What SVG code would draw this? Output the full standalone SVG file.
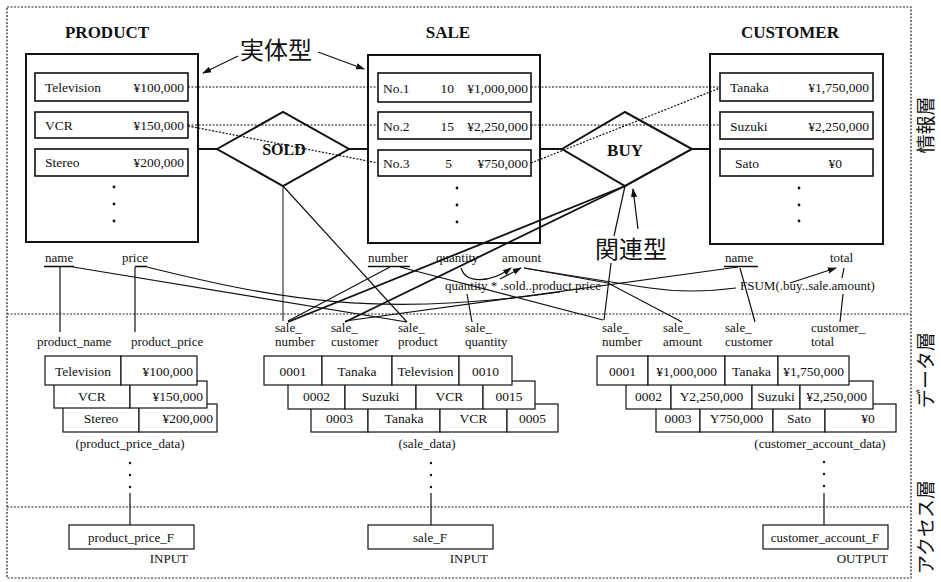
<svg xmlns="http://www.w3.org/2000/svg" width="941" height="582" viewBox="0 0 941 582">
<defs>
  <marker id="ah" viewBox="0 0 10 10" refX="9" refY="5" markerWidth="9" markerHeight="9" markerUnits="userSpaceOnUse" orient="auto">
    <path d="M0,1.5 L10,5 L0,8.5 Z" fill="#111"/>
  </marker>
</defs>
<style>
  text { font-family: "Liberation Serif", "Times New Roman", serif; fill: #111; }
  .t { font-size: 13.5px; }
  .s { font-size: 13px; }
  .mid { text-anchor: middle; }
  .end { text-anchor: end; }
  .title { font-size: 17px; font-weight: bold; text-anchor: middle; }
  .jp { font-family: "Noto Sans CJK JP", sans-serif; font-size: 24px; }
  .layer { font-family: "Noto Sans CJK JP", sans-serif; font-size: 19px; text-anchor: middle; }
  .frame { fill: none; stroke: #222; stroke-width: 1.2; stroke-dasharray: 2 1.5; }
  .ent { fill: none; stroke: #111; stroke-width: 2; }
  .row { fill: #fff; stroke: #111; stroke-width: 1.6; }
  .cell { fill: #fff; stroke: #111; stroke-width: 1.2; }
  .dia { fill: none; stroke: #111; stroke-width: 2; }
  .dot { fill: #111; }
  .ln { fill: none; stroke: #111; stroke-width: 1.2; }
  .thk { fill: none; stroke: #111; stroke-width: 2; }
  .dl { fill: none; stroke: #111; stroke-width: 1.2; stroke-dasharray: 2 1.5; }
  .ul { stroke: #111; stroke-width: 1.6; }
</style>
<rect width="941" height="582" fill="#fff"/>

<!-- layer frame and separators -->
<g id="frame">
  <rect class="frame" x="7" y="7" width="904" height="571"/>
  <line class="frame" x1="7" y1="314" x2="911" y2="314"/>
  <line class="frame" x1="7" y1="507" x2="911" y2="507"/>
  <text class="layer" transform="translate(933,125) rotate(-90)">情報層</text>
  <text class="layer" transform="translate(933,370) rotate(-90)">データ層</text>
  <text class="layer" transform="translate(933,527) rotate(-90)">アクセス層</text>
</g>

<!-- entity types -->
<g id="product">
  <text class="title" x="107" y="38">PRODUCT</text>
  <rect class="ent" x="26" y="54" width="172" height="188"/>
  <rect class="row" x="35" y="73" width="153" height="28"/>
  <rect class="row" x="35" y="112" width="153" height="26"/>
  <rect class="row" x="35" y="149" width="153" height="27"/>
  <text class="t" x="45" y="92">Television</text><text class="t end" x="184" y="92">¥100,000</text>
  <text class="t" x="45" y="130">VCR</text><text class="t end" x="184" y="130">¥150,000</text>
  <text class="t" x="45" y="167">Stereo</text><text class="t end" x="184" y="167">¥200,000</text>
  <circle class="dot" cx="114" cy="187" r="1.4"/><circle class="dot" cx="114" cy="204" r="1.4"/><circle class="dot" cx="114" cy="221" r="1.4"/>
</g>

<g id="sale">
  <text class="title" x="448" y="38">SALE</text>
  <rect class="ent" x="368" y="55" width="172" height="188"/>
  <rect class="row" x="378" y="73" width="153" height="29"/>
  <rect class="row" x="378" y="112" width="153" height="27"/>
  <rect class="row" x="378" y="150" width="153" height="26"/>
  <text class="t" x="383" y="93">No.1</text><text class="t end" x="454" y="93">10</text><text class="t end" x="528" y="93">¥1,000,000</text>
  <text class="t" x="383" y="131">No.2</text><text class="t end" x="454" y="131">15</text><text class="t end" x="528" y="131">¥2,250,000</text>
  <text class="t" x="383" y="168">No.3</text><text class="t end" x="452" y="168">5</text><text class="t end" x="528" y="168">¥750,000</text>
  <circle class="dot" cx="457" cy="188" r="1.4"/><circle class="dot" cx="457" cy="205" r="1.4"/><circle class="dot" cx="457" cy="222" r="1.4"/>
</g>

<g id="customer">
  <text class="title" x="790" y="38">CUSTOMER</text>
  <rect class="ent" x="710" y="54" width="173" height="190"/>
  <rect class="row" x="720" y="73" width="153" height="28"/>
  <rect class="row" x="720" y="112" width="153" height="27"/>
  <rect class="row" x="720" y="149" width="153" height="27"/>
  <text class="t" x="730" y="92">Tanaka</text><text class="t end" x="869" y="92">¥1,750,000</text>
  <text class="t" x="730" y="131">Suzuki</text><text class="t end" x="869" y="131">¥2,250,000</text>
  <text class="t" x="735" y="168">Sato</text><text class="t end" x="842" y="168">¥0</text>
  <circle class="dot" cx="799" cy="188" r="1.4"/><circle class="dot" cx="799" cy="205" r="1.4"/><circle class="dot" cx="799" cy="221" r="1.4"/>
</g>

<!-- relationship types -->
<g id="sold">
  <polygon class="dia" points="217,149 283,112 349,149 283,186"/>
  <text class="title" x="284" y="155" style="font-size:16px">SOLD</text>
</g>
<g id="buy">
  <polygon class="dia" points="562,149 625,112 692,149 625,186"/>
  <text class="title" x="625" y="156">BUY</text>
</g>

<!-- captions -->
<g id="entity-caption">
  <text class="jp" x="240" y="59">実体型</text>
  <line class="ln" x1="238" y1="56" x2="203" y2="73" marker-end="url(#ah)"/>
  <line class="ln" x1="318" y1="52" x2="364" y2="69" marker-end="url(#ah)"/>
</g>
<g id="relation-caption">
  <text class="jp" x="595" y="258">関連型</text>
  <line class="ln" x1="638" y1="229" x2="633" y2="189" marker-end="url(#ah)"/>
</g>

<!-- attributes -->
<g id="attr-product">
  <text class="s" x="45" y="262">name</text>
  <text class="s" x="122" y="262">price</text>
  <line class="ul" x1="44" y1="266.5" x2="74" y2="266.5"/>
  <line class="ul" x1="135" y1="266.5" x2="147" y2="266.5"/>
</g>
<g id="attr-sale">
  <text class="s" x="368" y="262">number</text>
  <text class="s" x="436" y="262">quantity</text>
  <text class="s" x="502" y="262">amount</text>
  <line class="ul" x1="368" y1="266.5" x2="410" y2="266.5"/>
  <text class="s" x="445" y="290">quantity * .sold..product.price</text>
</g>
<g id="attr-customer">
  <text class="s" x="725" y="262">name</text>
  <text class="s" x="830" y="262">total</text>
  <line class="ul" x1="724" y1="266.5" x2="758" y2="266.5"/>
  <text class="s" x="740" y="290">FSUM(.buy..sale.amount)</text>
</g>

<!-- data-layer fields -->
<g id="fields">
  <text class="s" x="37" y="346">product_name</text>
  <text class="s" x="131" y="346">product_price</text>
  <text class="s" x="275" y="332">sale_</text><text class="s" x="275" y="346">number</text>
  <text class="s" x="331" y="332">sale_</text><text class="s" x="331" y="346">customer</text>
  <text class="s" x="398" y="332">sale_</text><text class="s" x="398" y="346">product</text>
  <text class="s" x="465" y="332">sale_</text><text class="s" x="465" y="346">quantity</text>
  <text class="s" x="602" y="332">sale_</text><text class="s" x="602" y="346">number</text>
  <text class="s" x="663" y="332">sale_</text><text class="s" x="663" y="346">amount</text>
  <text class="s" x="725" y="332">sale_</text><text class="s" x="725" y="346">customer</text>
  <text class="s" x="811" y="332">customer_</text><text class="s" x="811" y="346">total</text>
</g>

<!-- record stacks -->
<g id="product_price_data">
  <rect class="cell" x="63" y="404" width="76" height="28"/><rect class="cell" x="139" y="404" width="78" height="28"/>
  <text class="t mid" x="101" y="423">Stereo</text><text class="t end" x="213" y="423">¥200,000</text>
  <rect class="cell" x="54" y="381" width="76" height="27"/><rect class="cell" x="130" y="381" width="77" height="27"/>
  <text class="t mid" x="92" y="401">VCR</text><text class="t end" x="203" y="401">¥150,000</text>
  <rect class="cell" x="45" y="356" width="76" height="29"/><rect class="cell" x="121" y="356" width="76" height="29"/>
  <text class="t mid" x="83" y="376">Television</text><text class="t end" x="193" y="376">¥100,000</text>
  <text class="s mid" x="130" y="448">(product_price_data)</text>
  <circle class="dot" cx="130" cy="463" r="1.2"/><circle class="dot" cx="130" cy="475" r="1.2"/><circle class="dot" cx="130" cy="487" r="1.2"/>
</g>

<g id="sale_data">
  <rect class="cell" x="311" y="404" width="57" height="28"/><rect class="cell" x="368" y="404" width="72" height="28"/><rect class="cell" x="440" y="404" width="67" height="28"/><rect class="cell" x="507" y="404" width="51" height="28"/>
  <text class="t mid" x="339.5" y="423">0003</text><text class="t mid" x="404" y="423">Tanaka</text><text class="t mid" x="473.5" y="423">VCR</text><text class="t mid" x="532.5" y="423">0005</text>
  <rect class="cell" x="288" y="381" width="57" height="28"/><rect class="cell" x="345" y="381" width="71" height="28"/><rect class="cell" x="416" y="381" width="67" height="28"/><rect class="cell" x="483" y="381" width="52" height="28"/>
  <text class="t mid" x="316.5" y="401">0002</text><text class="t mid" x="380.5" y="401">Suzuki</text><text class="t mid" x="449.5" y="401">VCR</text><text class="t mid" x="509" y="401">0015</text>
  <rect class="cell" x="264" y="356" width="58" height="29"/><rect class="cell" x="322" y="356" width="70" height="29"/><rect class="cell" x="392" y="356" width="67" height="29"/><rect class="cell" x="459" y="356" width="53" height="29"/>
  <text class="t mid" x="293" y="376">0001</text><text class="t mid" x="357" y="376">Tanaka</text><text class="t mid" x="425.5" y="376">Television</text><text class="t mid" x="485.5" y="376">0010</text>
  <text class="s mid" x="427" y="448">(sale_data)</text>
  <circle class="dot" cx="431" cy="463" r="1.2"/><circle class="dot" cx="431" cy="475" r="1.2"/><circle class="dot" cx="431" cy="487" r="1.2"/>
</g>

<g id="customer_account_data">
  <rect class="cell" x="656" y="404" width="44" height="28"/><rect class="cell" x="700" y="404" width="73" height="28"/><rect class="cell" x="773" y="404" width="52" height="28"/><rect class="cell" x="825" y="404" width="71" height="28"/>
  <text class="t mid" x="678" y="423">0003</text><text class="t mid" x="736.5" y="423">Y750,000</text><text class="t mid" x="799" y="423">Sato</text><text class="t mid" x="868" y="423">¥0</text>
  <rect class="cell" x="626" y="381" width="45" height="28"/><rect class="cell" x="671" y="381" width="81" height="28"/><rect class="cell" x="752" y="381" width="48" height="28"/><rect class="cell" x="800" y="381" width="73" height="28"/>
  <text class="t mid" x="648.5" y="401">0002</text><text class="t mid" x="711.5" y="401">Y2,250,000</text><text class="t mid" x="776" y="401">Suzuki</text><text class="t mid" x="836.5" y="401">¥2,250,000</text>
  <rect class="cell" x="597" y="356" width="51" height="29"/><rect class="cell" x="648" y="356" width="77" height="29"/><rect class="cell" x="725" y="356" width="53" height="29"/><rect class="cell" x="778" y="356" width="71" height="29"/>
  <text class="t mid" x="622.5" y="376">0001</text><text class="t mid" x="686.5" y="376">¥1,000,000</text><text class="t mid" x="751.5" y="376">Tanaka</text><text class="t mid" x="813.5" y="376">¥1,750,000</text>
  <text class="s mid" x="820" y="448">(customer_account_data)</text>
  <circle class="dot" cx="824" cy="462" r="1.2"/><circle class="dot" cx="824" cy="474" r="1.2"/><circle class="dot" cx="824" cy="486" r="1.2"/>
</g>

<!-- access-layer files -->
<g id="product_price_F">
  <rect class="cell" x="69" y="525" width="125" height="24"/>
  <text class="s mid" x="131" y="542">product_price_F</text>
  <text class="s end" x="188" y="563">INPUT</text>
</g>
<g id="sale_F">
  <rect class="cell" x="368" y="525" width="125" height="24"/>
  <text class="s mid" x="430" y="542">sale_F</text>
  <text class="s end" x="488" y="563">INPUT</text>
</g>
<g id="customer_account_F">
  <rect class="cell" x="763" y="525" width="125" height="24"/>
  <text class="s mid" x="825" y="542">customer_account_F</text>
  <text class="s end" x="888" y="563">OUTPUT</text>
</g>

<!-- connectors -->
<g id="connectors">
  <!-- entity / relationship links -->
  <line class="thk" x1="198" y1="149" x2="217" y2="149"/>
  <line class="thk" x1="349" y1="149" x2="368" y2="149"/>
  <line class="thk" x1="540" y1="149" x2="562" y2="149"/>
  <line class="thk" x1="692" y1="149" x2="710" y2="149"/>
  <!-- instance links -->
  <line class="dl" x1="188" y1="87" x2="378" y2="87"/>
  <line class="dl" x1="188" y1="125" x2="378" y2="125"/>
  <line class="dl" x1="188" y1="126" x2="378" y2="163"/>
  <line class="dl" x1="531" y1="87" x2="720" y2="87"/>
  <line class="dl" x1="531" y1="125" x2="720" y2="125"/>
  <line class="dl" x1="531" y1="163" x2="720" y2="88"/>
  <!-- relationships to fields -->
  <line class="ln" x1="283" y1="186" x2="283" y2="321" style="stroke-width:1"/>
  <line class="ln" x1="283" y1="186" x2="407" y2="322"/>
  <line class="thk" x1="625" y1="186" x2="288" y2="322" style="stroke-width:1.8"/>
  <line class="thk" x1="625" y1="186" x2="345" y2="322" style="stroke-width:1.8"/>
  <line class="ln" x1="625" y1="186" x2="614" y2="236"/>
  <line class="ln" x1="611" y1="263" x2="604" y2="320"/>
  <!-- attributes to fields -->
  <line class="ln" x1="60" y1="267" x2="60" y2="332"/>
  <line class="ln" x1="135" y1="267" x2="135" y2="332"/>
  <line class="ln" x1="73" y1="267" x2="407" y2="322"/>
  <path class="ln" d="M147,267 C280,300 380,318 560,292"/>
  <line class="ln" x1="390" y1="267" x2="288" y2="321"/>
  <line class="ln" x1="400" y1="267" x2="603" y2="320"/>
  <line class="ln" x1="467" y1="294" x2="472" y2="322"/>
  <path class="ln" d="M524,268 L608,283 L682,322"/>
  <path class="ln" d="M524,268 Q610,282 650,288 T736,288"/>
  <line class="ln" x1="738" y1="267" x2="345" y2="321"/>
  <line class="ln" x1="740" y1="268" x2="755" y2="322"/>
  <line class="ln" x1="844" y1="268" x2="842" y2="278"/>
  <line class="ln" x1="843" y1="294" x2="840" y2="322"/>
  <!-- derivations -->
  <path class="ln" d="M461,268 C466,284 490,283 511,268" marker-end="url(#ah)"/>
  <line class="ln" x1="500" y1="279" x2="521" y2="268" marker-end="url(#ah)"/>
  <line class="ln" x1="790" y1="283" x2="836" y2="268" marker-end="url(#ah)"/>
  <!-- data to files -->
  <line class="ln" x1="130" y1="493" x2="130" y2="525"/>
  <line class="ln" x1="431" y1="493" x2="431" y2="525"/>
  <line class="ln" x1="824" y1="493" x2="824" y2="525"/>
</g>
</svg>
